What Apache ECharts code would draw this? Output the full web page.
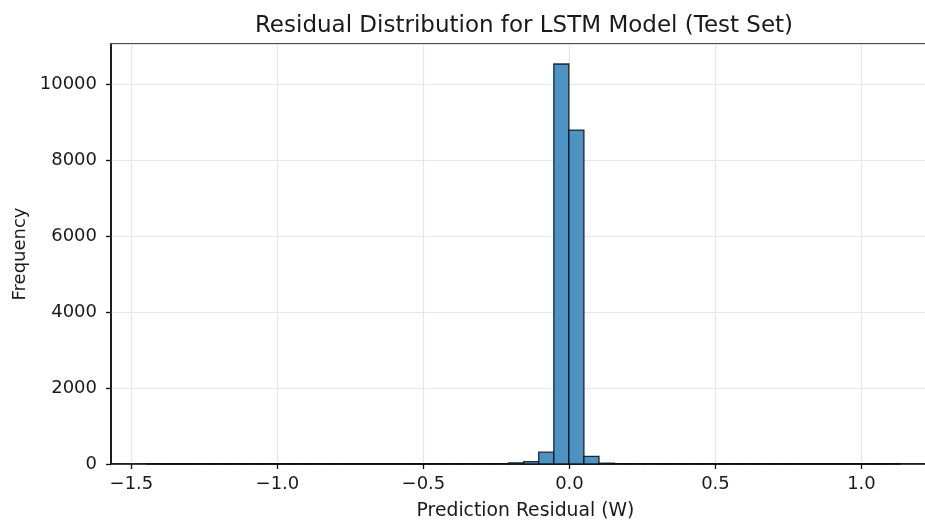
<!DOCTYPE html>
<html>
<head>
<meta charset="utf-8">
<title>Residual Distribution</title>
<script src="https://cdn.jsdelivr.net/npm/echarts@6/dist/echarts.min.js"></script>
<style>
  html, body { margin: 0; padding: 0; background: #fff; }
  #chart { width: 925px; height: 523px; }
</style>
</head>
<body>
<div id="chart"></div>
<script>
// histogram bins (50 bins)
const binStart = -1.4468;
const binWidth = 0.0516;
const counts = [
  1, 0, 0, 0, 0, 0, 0, 0, 0, 0,
  0, 0, 0, 0, 0, 0, 0, 0, 0, 0,
  0, 1, 2, 6, 30, 65, 310, 10530, 8790, 200,
  22, 10, 4, 1, 0, 0, 0, 0, 0, 0,
  0, 0, 0, 0, 0, 0, 0, 0, 0, 1
];
const xTicks = [-1.5, -1.0, -0.5, 0.0, 0.5, 1.0];

const font = "DejaVu Sans";
const textColor = "#1a1a1a";

let binData = counts.map(function (c, i) {
  return [binStart + i * binWidth, binStart + (i + 1) * binWidth, c];
});

let myChart = echarts.init(document.getElementById("chart"));
myChart.setOption({
  animation: false,
  title: {
    text: "Residual Distribution for LSTM Model (Test Set)",
    left: 519,
    top: 10,
    textAlign: "center",
    textStyle: {
      fontFamily: font,
      fontSize: 23,
      fontWeight: "normal",
      color: textColor
    }
  },
  grid: {
    left: 111,
    top: 44,
    width: 829,
    height: 420,
    outerBoundsMode: "none",
    containLabel: false,
    show: true,
    borderColor: "#111",
    borderWidth: 1.5,
    backgroundColor: "transparent"
  },
  xAxis: {
    type: "value",
    min: -1.570,
    max: 1.269,
    name: "Prediction Residual (W)",
    nameLocation: "middle",
    nameGap: 38,
    nameTextStyle: { fontFamily: font, fontSize: 18.8, color: textColor },
    axisLine: { show: true, onZero: false, lineStyle: { color: "#111", width: 1.5 } },
    axisTick: {
      show: true,
      length: 5,
      customValues: xTicks,
      lineStyle: { color: "#111", width: 1.3 }
    },
    axisLabel: {
      customValues: xTicks,
      margin: 11,
      fontFamily: font,
      fontSize: 18,
      color: textColor,
      formatter: function (v) {
        return (v < 0 ? "\u2212" : "") + Math.abs(v).toFixed(1);
      }
    },
    splitLine: { show: true, lineStyle: { color: "#e6e6e6", width: 1.2 } }
  },
  yAxis: {
    type: "value",
    min: 0,
    max: 11057,
    interval: 2000,
    name: "Frequency",
    nameLocation: "middle",
    nameGap: 82,
    nameTextStyle: { fontFamily: font, fontSize: 18, color: textColor },
    axisLine: { show: true, onZero: false, lineStyle: { color: "#111", width: 1.5 } },
    axisTick: { show: true, length: 5, lineStyle: { color: "#111", width: 1.3 } },
    axisLabel: {
      margin: 14,
      showMaxLabel: false,
      fontFamily: font,
      fontSize: 18,
      color: textColor,
      formatter: function (v) { return String(v); }
    },
    splitLine: { show: true, lineStyle: { color: "#e6e6e6", width: 1.2 } }
  },
  series: [
    {
      type: "custom",
      z: 1,
      renderItem: function (params, api) {
        let p0 = api.coord([api.value(0), api.value(2)]);
        let p1 = api.coord([api.value(1), 0]);
        return {
          type: "rect",
          shape: { x: p0[0], y: p0[1], width: p1[0] - p0[0], height: p1[1] - p0[1] },
          style: {
            fill: "#4c92c3",
            stroke: "rgba(0,0,0,0.8)",
            lineWidth: 1.3
          }
        };
      },
      encode: { x: [0, 1], y: 2 },
      data: binData
    }
  ]
});
</script>
</body>
</html>
